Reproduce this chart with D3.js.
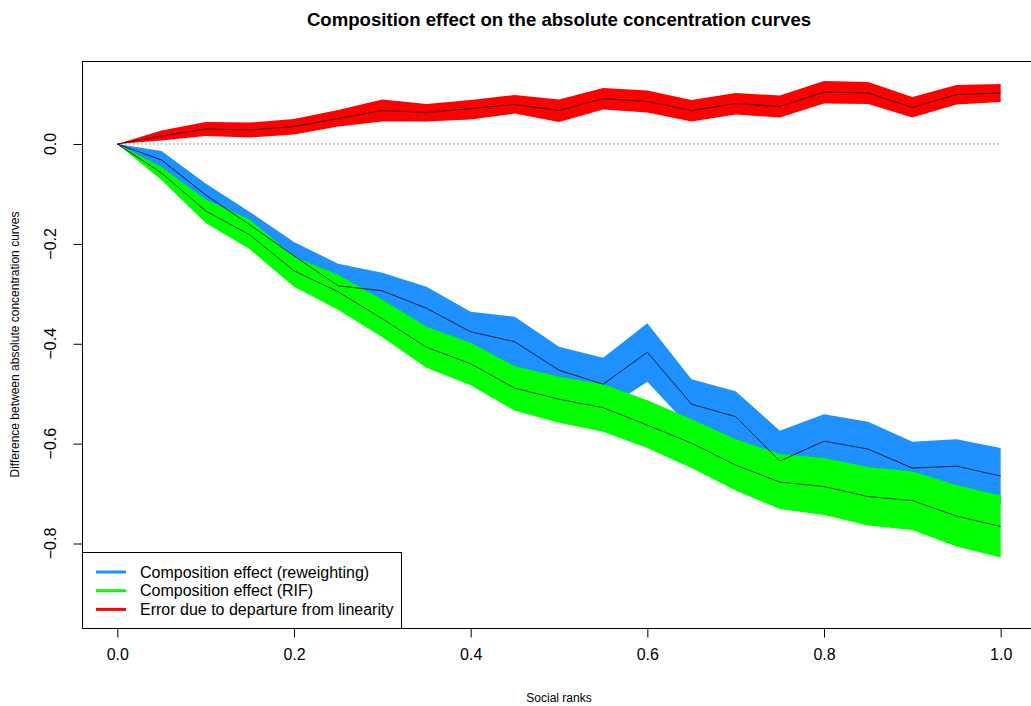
<!DOCTYPE html>
<html><head><meta charset="utf-8">
<script src="https://cdn.jsdelivr.net/npm/d3@7"></script>
<style>body{margin:0;background:#fff}svg{display:block}text{font-family:"Liberation Sans",Arial,Helvetica,sans-serif}</style>
</head><body><svg id="c" width="1031" height="706"></svg>
<script>
const ranks = d3.range(21).map(i => +(i*0.05).toFixed(2));
const reweightCenter = [0,-0.032,-0.102,-0.162,-0.224,-0.284,-0.294,-0.329,-0.376,-0.396,-0.453,-0.481,-0.417,-0.521,-0.546,-0.635,-0.595,-0.611,-0.649,-0.645,-0.665];
const reweightUpper  = [0,-0.014,-0.079,-0.136,-0.196,-0.240,-0.258,-0.286,-0.336,-0.346,-0.406,-0.428,-0.359,-0.471,-0.495,-0.574,-0.541,-0.556,-0.596,-0.591,-0.609];
const reweightLower  = [0,-0.050,-0.125,-0.188,-0.252,-0.328,-0.330,-0.372,-0.416,-0.446,-0.500,-0.534,-0.476,-0.571,-0.597,-0.696,-0.649,-0.666,-0.702,-0.699,-0.721];
const rifCenter = [0,-0.058,-0.134,-0.182,-0.254,-0.296,-0.350,-0.407,-0.440,-0.489,-0.511,-0.528,-0.563,-0.599,-0.643,-0.677,-0.686,-0.706,-0.714,-0.745,-0.766];
const rifUpper  = [0,-0.046,-0.111,-0.151,-0.226,-0.262,-0.312,-0.366,-0.398,-0.445,-0.466,-0.481,-0.513,-0.551,-0.591,-0.621,-0.629,-0.647,-0.656,-0.683,-0.704];
const rifLower  = [0,-0.072,-0.158,-0.211,-0.286,-0.332,-0.387,-0.448,-0.483,-0.534,-0.558,-0.576,-0.609,-0.649,-0.694,-0.731,-0.743,-0.764,-0.773,-0.806,-0.828];
const errCenter = [0,0.016,0.030,0.028,0.035,0.051,0.067,0.063,0.071,0.079,0.067,0.091,0.085,0.067,0.081,0.075,0.104,0.102,0.073,0.099,0.102];
const errUpper  = [0,0.027,0.044,0.043,0.050,0.068,0.089,0.080,0.088,0.098,0.089,0.112,0.107,0.088,0.102,0.097,0.126,0.124,0.094,0.118,0.120];
const errLower  = [0,0.007,0.016,0.013,0.019,0.035,0.045,0.045,0.049,0.061,0.044,0.069,0.063,0.045,0.059,0.053,0.081,0.080,0.053,0.079,0.084];
const xTicks = [0,0.2,0.4,0.6,0.8,1.0];
const yTicks = [0,-0.2,-0.4,-0.6,-0.8];
const legendLabels = ["Composition effect (reweighting)","Composition effect (RIF)","Error due to departure from linearity"];
const colors = ["#1E90FF","#00FF00","#FF0000"];

const svg = d3.select("#c");
const L=82, R=1036, T=61, B=628;
const x = d3.scaleLinear().domain([-0.04,1.04]).range([L,R]);
const y = d3.scaleLinear().domain([-0.9692,0.1662]).range([B,T]);

const series = [
  {c:reweightCenter,u:reweightUpper,l:reweightLower,col:colors[0]},
  {c:rifCenter,u:rifUpper,l:rifLower,col:colors[1]},
  {c:errCenter,u:errUpper,l:errLower,col:colors[2]}
];
const area = d3.area().x((d,i)=>x(ranks[i])).y0(d=>y(d[0])).y1(d=>y(d[1]));
const line = d3.line().x((d,i)=>x(ranks[i])).y(d=>y(d));

const g = svg.append("g");
g.append("line").attr("x1",x(0)).attr("x2",x(1)).attr("y1",y(0)).attr("y2",y(0))
 .attr("stroke","#333").attr("stroke-width",1).attr("stroke-dasharray","1,3");
series.forEach(s=>{
  g.append("path").datum(s.l.map((v,i)=>[v,s.u[i]])).attr("d",area).attr("fill",s.col).attr("stroke","none");
});
series.forEach(s=>{
  g.append("path").datum(s.c).attr("d",line).attr("fill","none").attr("stroke","#000").attr("stroke-opacity",0.75).attr("stroke-width",1);
});

svg.append("rect").attr("x",L+0.5).attr("y",T+0.5).attr("width",R-L).attr("height",B-T)
 .attr("fill","none").attr("stroke","#000").attr("stroke-width",1);

const xa = svg.append("g").attr("transform",`translate(0,${B+0.5})`)
 .call(d3.axisBottom(x).tickValues(xTicks).tickFormat(d3.format(".1f")).tickSize(9).tickPadding(11));
xa.select(".domain").remove();
xa.selectAll("text").attr("font-size",16).attr("fill","#000").attr("font-family","Liberation Sans, Arial, sans-serif");
xa.selectAll("line").attr("stroke","#000");

const ya = svg.append("g").attr("transform",`translate(${L+0.5},0)`)
 .call(d3.axisLeft(y).tickValues(yTicks).tickFormat(d=>d3.format(".1f")(d).replace("-","\u2212")).tickSize(9));
ya.select(".domain").remove();
ya.selectAll("line").attr("stroke","#000");
ya.selectAll(".tick").attr("transform",null);
ya.selectAll(".tick line").attr("y1",d=>y(d)+0.5).attr("y2",d=>y(d)+0.5).attr("x2",-9);
ya.selectAll(".tick text").attr("font-size",16).attr("fill","#000").attr("font-family","Liberation Sans, Arial, sans-serif")
 .attr("x",-32).attr("y",d=>y(d)).attr("dy","0.35em").attr("text-anchor","middle")
 .attr("transform",d=>`rotate(-90,-32,${y(d)})`);

svg.append("text").attr("x",(L+R)/2).attr("y",26).attr("text-anchor","middle")
 .attr("font-size",18.6).attr("font-weight","bold").text("Composition effect on the absolute concentration curves");
svg.append("text").attr("x",(L+R)/2).attr("y",702).attr("text-anchor","middle")
 .attr("font-size",12).text("Social ranks");
svg.append("text").attr("transform",`translate(19,${(T+B)/2}) rotate(-90)`).attr("text-anchor","middle")
 .attr("font-size",12).text("Difference between absolute concentration curves");

const lg = svg.append("g");
lg.append("rect").attr("x",L+0.5).attr("y",552.5).attr("width",319).attr("height",B-552)
 .attr("fill","#fff").attr("stroke","#000").attr("stroke-width",1);
legendLabels.forEach((t,i)=>{
  const yy = 572 + i*18.7;
  lg.append("line").attr("x1",96).attr("x2",126).attr("y1",yy).attr("y2",yy).attr("stroke",colors[i]).attr("stroke-width",3);
  lg.append("text").attr("x",140).attr("y",yy).attr("dy","0.35em").attr("font-size",16).text(t);
});
</script></body></html>
